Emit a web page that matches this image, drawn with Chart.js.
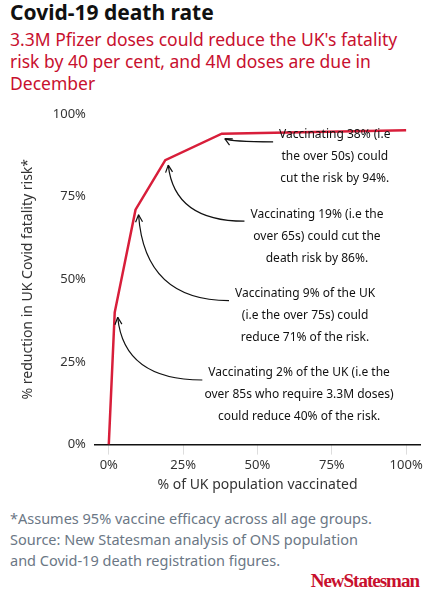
<!DOCTYPE html>
<html>
<head>
<meta charset="utf-8">
<script src="https://cdn.jsdelivr.net/npm/chart.js@4"></script>
<style>
  body { margin: 0; width: 431px; height: 600px; background: #fff; font-family: "Noto Sans", sans-serif; position: relative; overflow: hidden; }
  #title { position: absolute; left: 10px; top: -2px; font: bold 21px "Noto Sans", sans-serif; color: #111; }
  #sub { position: absolute; left: 10px; top: 28px; width: 405px; font: 17.5px "Noto Sans", sans-serif; color: #c8102e; line-height: 22px; }
  #chartbox { position: absolute; left: 0; top: 98px; width: 431px; height: 395px; }
  #foot { position: absolute; left: 10px; top: 508px; font: 14.5px "Noto Sans", sans-serif; color: #6b7785; line-height: 21px; }
  #logo { position: absolute; right: 12px; top: 570px; font: bold 19px "Liberation Serif", serif; color: #c8102e; letter-spacing: -1px; }
</style>
</head>
<body>
<div id="title">Covid-19 death rate</div>
<div id="sub">3.3M Pfizer doses could reduce the UK's fatality risk by 40 per cent, and 4M doses are due in December</div>
<div id="chartbox"><canvas id="myChart"></canvas></div>
<div id="foot">*Assumes 95% vaccine efficacy across all age groups.<br>Source: New Statesman analysis of ONS population<br>and Covid-19 death registration figures.</div>
<div id="logo">NewStatesman</div>
<script>
/* data */
var vaccinated = [0, 2, 9, 19, 38, 100];
var reduction = [0, 40, 71, 86, 94, 95];
var xTicks = [0, 25, 50, 75, 100];

/* notes: point index, text lines, text centre in data units */
var notes = [
  { idx: 4, lines: ['Vaccinating 38% (i.e', 'the over 50s) could', 'cut the risk by 94%.'], tx: 76, ty: 87 },
  { idx: 3, lines: ['Vaccinating 19% (i.e the', 'over 65s) could cut the', 'death risk by 86%.'], tx: 70, ty: 63 },
  { idx: 2, lines: ['Vaccinating 9% of the UK', '(i.e the over 75s) could', 'reduce 71% of the risk.'], tx: 66, ty: 39 },
  { idx: 1, lines: ['Vaccinating 2% of the UK (i.e the', 'over 85s who require 3.3M doses)', 'could reduce 40% of the risk.'], tx: 64, ty: 15 }
];

var notePlugin = {
  id: 'notes',
  afterDatasetsDraw: function(chart) {
    var c = chart.ctx, xs = chart.scales.x, ys = chart.scales.y;
    c.save();
    notes.forEach(function(n) {
      var cx = xs.getPixelForValue(n.tx), cy = ys.getPixelForValue(n.ty);
      c.font = '12px "Noto Sans", sans-serif';
      c.fillStyle = '#111';
      c.textAlign = 'center';
      c.textBaseline = 'middle';
      n.lines.forEach(function(l, i) { c.fillText(l, cx, cy + (i - 1) * 22); });
      var w = c.measureText(n.lines[0]).width;
      var sx = cx - w / 2 - 6, sy = cy - 15;
      var px = xs.getPixelForValue(vaccinated[n.idx]) + 3;
      var py = ys.getPixelForValue(reduction[n.idx]) + 5;
      var qx = px + 6, qy = sy;
      c.strokeStyle = '#111';
      c.lineWidth = 1.2;
      c.beginPath();
      c.moveTo(sx, sy);
      c.quadraticCurveTo(qx, qy, px, py);
      c.stroke();
      var a = Math.atan2(py - qy, px - qx);
      c.beginPath();
      c.moveTo(px, py);
      c.lineTo(px - 8 * Math.cos(a - 0.45), py - 8 * Math.sin(a - 0.45));
      c.moveTo(px, py);
      c.lineTo(px - 8 * Math.cos(a + 0.45), py - 8 * Math.sin(a + 0.45));
      c.stroke();
    });
    c.restore();
  }
};

var ctx = document.getElementById('myChart').getContext('2d');
var myChart = new Chart(ctx, {
  type: 'line',
  data: {
    datasets: [{
      data: vaccinated.map(function(v, i) { return { x: v, y: reduction[i] }; }),
      borderColor: '#d81e3a',
      borderWidth: 2.5,
      pointRadius: 0,
      tension: 0
    }]
  },
  options: {
    animation: false,
    responsive: true,
    maintainAspectRatio: false,
    layout: { padding: { top: 12, right: 10, left: 12 } },
    plugins: { legend: { display: false }, tooltip: { enabled: false } },
    scales: {
      x: {
        type: 'linear', min: -5, max: 105,
        afterBuildTicks: function(ax) { ax.ticks = xTicks.map(function(v) { return { value: v }; }); },
        ticks: { callback: function(v) { return v + '%'; }, color: '#333', font: { family: 'Noto Sans', size: 13 }, maxRotation: 0 },
        grid: { display: true, drawOnChartArea: false, tickLength: 10, color: '#ddd' },
        border: { display: false },
        title: { display: true, text: '% of UK population vaccinated', color: '#333', font: { family: 'Noto Sans', size: 14 }, padding: 0 }
      },
      y: {
        min: 0, max: 100,
        ticks: { stepSize: 25, callback: function(v) { return v + '%'; }, color: '#333', font: { family: 'Noto Sans', size: 13 }, padding: 8 },
        grid: { display: true, drawTicks: false, color: function(c) { return c.tick.value === 0 ? '#111' : 'rgba(0,0,0,0)'; }, lineWidth: 1.5 },
        border: { display: false },
        title: { display: true, text: '% reduction in UK Covid fatality risk*', color: '#333', font: { family: 'Noto Sans', size: 14 }, padding: 8 }
      }
    }
  },
  plugins: [notePlugin]
});
</script>
</body>
</html>
